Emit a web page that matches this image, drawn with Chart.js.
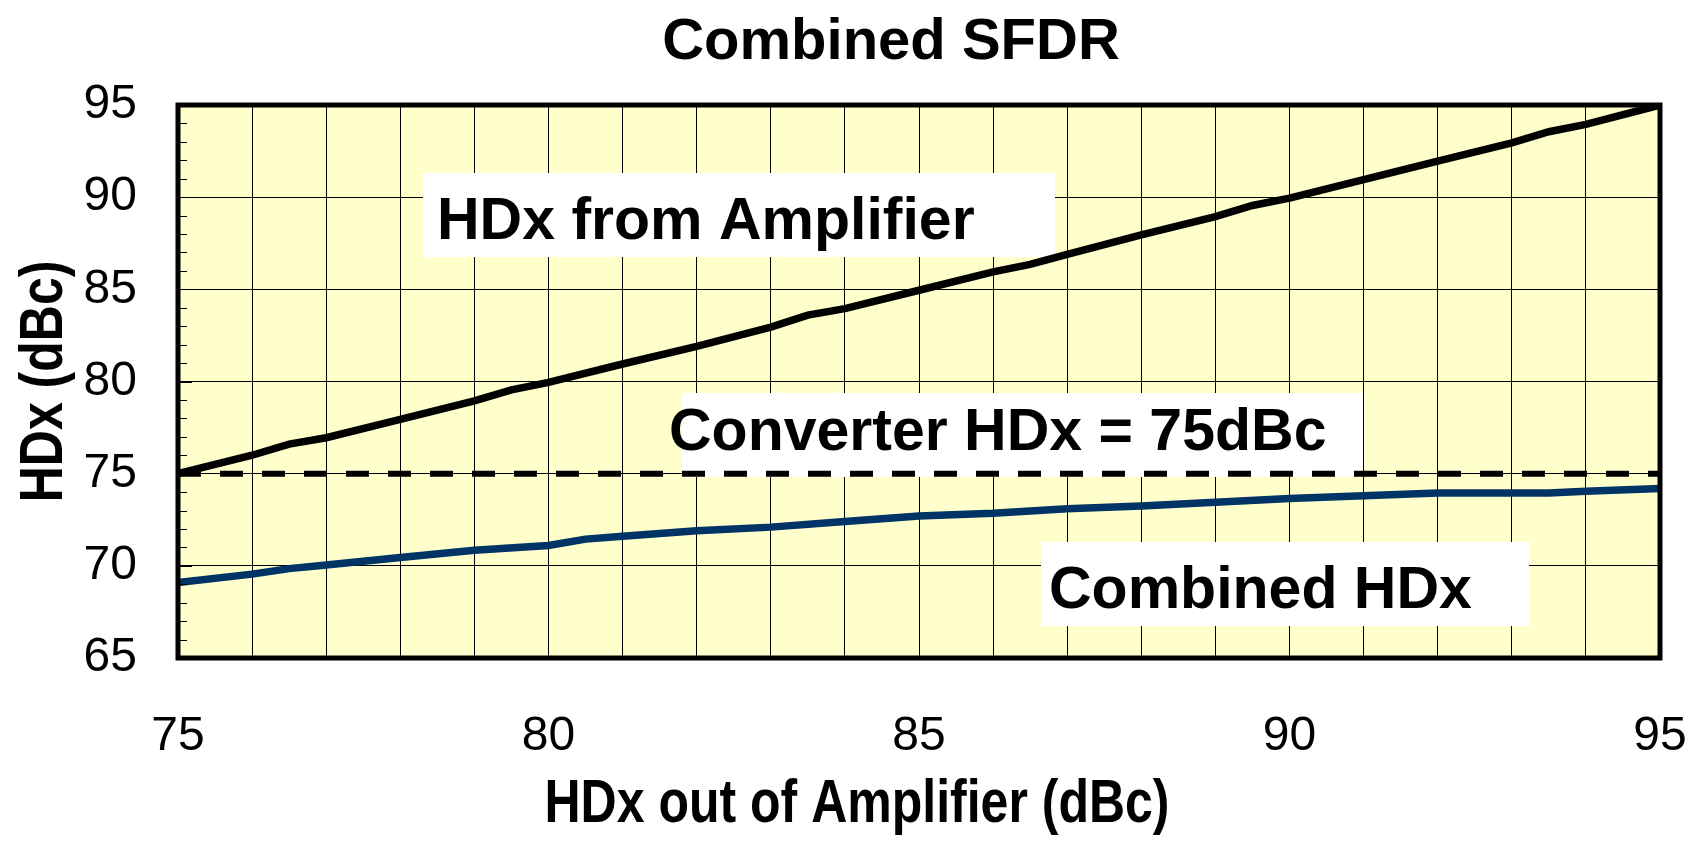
<!DOCTYPE html>
<html>
<head>
<meta charset="utf-8">
<title>Combined SFDR</title>
<script src="https://cdn.jsdelivr.net/npm/chart.js@4.4.1/dist/chart.umd.min.js"></script>
<style>
  html, body { margin: 0; padding: 0; background: #ffffff; }
  #wrap { width: 1692px; height: 844px; position: relative; }
</style>
</head>
<body>
<div id="wrap"><canvas id="sfdrChart"></canvas></div>
<script>
// HDx out of the amplifier (x) vs resulting HDx (y), dBc
const ampX  = [75, 76, 76.5, 77, 78, 79, 79.5, 80, 81, 82, 83, 83.5, 84, 85, 86, 86.5, 87, 88, 89, 89.5, 90, 91, 92, 93, 93.5, 94, 95];
const ampHD = [75, 76, 76.6, 76.95, 77.95, 78.95, 79.55, 79.95, 80.95, 81.9, 82.95, 83.6, 83.95, 84.95, 85.95, 86.35, 86.9, 87.95, 88.95, 89.55, 89.95, 90.95, 91.95, 92.95, 93.55, 93.95, 95];

const combX  = [75, 76, 76.5, 77, 78, 79, 80, 80.5, 81, 82, 83, 84, 85, 86, 87, 88, 89, 90, 91, 92, 93, 93.5, 94, 95];
const combHD = [69.1, 69.55, 69.85, 70.05, 70.45, 70.85, 71.1, 71.45, 71.6, 71.9, 72.1, 72.4, 72.7, 72.85, 73.1, 73.25, 73.45, 73.65, 73.8, 73.95, 73.95, 73.95, 74.05, 74.2];

const convX  = [75, 95];
const convHD = [75, 75];

// axis ranges / tick labels
const xRange = [75, 95];
const yRange = [65, 95];
const xLabels = [75, 80, 85, 90, 95];
const yLabels = [65, 70, 75, 80, 85, 90, 95];

const FONT = '"Liberation Sans", Arial, Helvetica, sans-serif';

function toPoints(xs, ys) {
    return xs.map((x, i) => ({ x: x, y: ys[i] }));
}

// in-plot text labels: white box + bold text (canvas pixels)
const textBoxes = [
    { text: 'HDx from Amplifier',     box: [423, 173, 632, 84], tx: 437, ty: 239 },
    { text: 'Converter HDx = 75dBc',  box: [682, 393, 681, 84], tx: 669, ty: 450 },
    { text: 'Combined HDx',           box: [1041, 542, 488, 84], tx: 1049, ty: 608 }
];

// yellow plot background
const plotBackground = {
    id: 'plotBackground',
    beforeDraw(chart) {
        const { ctx, chartArea: a } = chart;
        ctx.save();
        ctx.fillStyle = '#FFFFCC';
        ctx.fillRect(a.left, a.top, a.right - a.left, a.bottom - a.top);
        ctx.restore();
    }
};

// white label boxes sit on the grid, under the lines
const labelBoxes = {
    id: 'labelBoxes',
    beforeDatasetsDraw(chart) {
        const ctx = chart.ctx;
        ctx.save();
        textBoxes.forEach(t => {
            ctx.fillStyle = '#ffffff';
            ctx.fillRect(t.box[0], t.box[1], t.box[2], t.box[3]);
        });
        ctx.fillStyle = '#000000';
        ctx.font = 'bold 59px ' + FONT;
        ctx.textAlign = 'left';
        ctx.textBaseline = 'alphabetic';
        textBoxes.forEach(t => ctx.fillText(t.text, t.tx, t.ty));
        ctx.restore();
    }
};

// minor ticks on the left axis and the heavy frame
const plotFrame = {
    id: 'plotFrame',
    afterDatasetsDraw(chart) {
        const { ctx, chartArea: a } = chart;
        const yScale = chart.scales.y;
        ctx.save();
        ctx.strokeStyle = '#000000';
        ctx.lineWidth = 1;
        for (let v = yRange[0] + 1; v < yRange[1]; v++) {
            const y = Math.round(yScale.getPixelForValue(v)) + 0.5;
            const len = (v % 5 === 0) ? 14 : 9;
            ctx.beginPath();
            ctx.moveTo(a.left, y);
            ctx.lineTo(a.left + len, y);
            ctx.stroke();
        }
        ctx.lineWidth = 5;
        ctx.strokeRect(a.left, a.top, a.right - a.left, a.bottom - a.top);
        ctx.restore();
    }
};

// chart title and axis titles (axis titles use a taller, narrow-looking bold)
const titles = {
    id: 'titles',
    afterDraw(chart) {
        const { ctx, chartArea: a } = chart;
        ctx.save();
        ctx.fillStyle = '#000000';
        ctx.textAlign = 'center';
        ctx.textBaseline = 'alphabetic';
        ctx.font = 'bold 58px ' + FONT;
        ctx.fillText('Combined SFDR', 891, 59);

        ctx.font = 'bold 50px ' + FONT;
        ctx.save();
        ctx.translate(857, 822);
        ctx.scale(1, 1.22);
        ctx.fillText('HDx out of Amplifier (dBc)', 0, 0);
        ctx.restore();

        ctx.save();
        ctx.translate(62, (a.top + a.bottom) / 2);
        ctx.rotate(-Math.PI / 2);
        ctx.scale(1, 1.22);
        ctx.fillText('HDx (dBc)', 0, 0);
        ctx.restore();
        ctx.restore();
    }
};

const ctx = document.getElementById('sfdrChart').getContext('2d');
const chart = new Chart(ctx, {
    type: 'line',
    data: {
        datasets: [
            {
                label: 'Converter HDx',
                data: toPoints(convX, convHD),
                borderColor: '#000000',
                borderWidth: 6,
                borderDash: [23, 19],
                pointRadius: 0,
                fill: false
            },
            {
                label: 'HDx from Amplifier',
                data: toPoints(ampX, ampHD),
                borderColor: '#000000',
                borderWidth: 7.5,
                pointRadius: 0,
                tension: 0,
                fill: false
            },
            {
                label: 'Combined HDx',
                data: toPoints(combX, combHD),
                borderColor: '#003366',
                borderWidth: 7.5,
                pointRadius: 0,
                tension: 0,
                fill: false
            }
        ]
    },
    options: {
        responsive: true,
        maintainAspectRatio: false,
        animation: false,
        layout: { padding: { top: 105, right: 32, left: 0, bottom: 0 } },
        scales: {
            x: {
                type: 'linear',
                min: xRange[0],
                max: xRange[1],
                afterFit: (s) => { s.height = 186; },
                border: { display: false },
                // invisible tick marks push the labels down without adding side padding
                grid: { color: '#000000', lineWidth: 1, drawTicks: true, tickLength: 50, tickColor: 'rgba(0,0,0,0)' },
                ticks: {
                    stepSize: 1,
                    autoSkip: false,
                    maxRotation: 0,
                    padding: 0,
                    color: '#000000',
                    font: { family: FONT, size: 48 },
                    callback: (v) => xLabels.includes(v) ? String(v) : ''
                }
            },
            y: {
                type: 'linear',
                min: yRange[0],
                max: yRange[1],
                afterFit: (s) => { s.width = 178; },
                border: { display: false },
                grid: { color: '#000000', lineWidth: 1, drawTicks: false },
                ticks: {
                    stepSize: 5,
                    padding: 41,
                    color: '#000000',
                    font: { family: FONT, size: 48 },
                    callback: (v) => yLabels.includes(v) ? String(v) : ''
                }
            }
        },
        plugins: {
            legend: { display: false },
            tooltip: { enabled: false },
            title: { display: false }
        }
    },
    plugins: [plotBackground, labelBoxes, plotFrame, titles]
});
</script>
</body>
</html>
